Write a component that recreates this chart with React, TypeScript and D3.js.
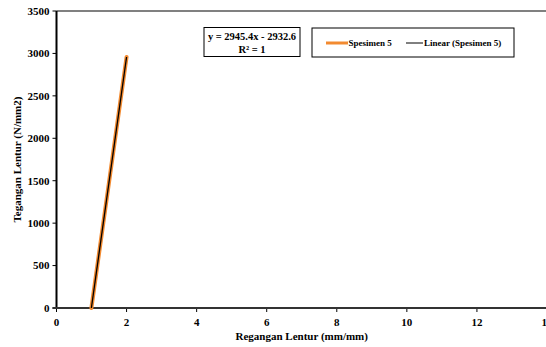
import React from "react";
import * as d3 from "d3";

const strainValues = [0.9957, 2.0];
const stressValues = [0, 2958];
const xTicks = [0, 2, 4, 6, 8, 10, 12, 14];
const yTicks = [0, 500, 1000, 1500, 2000, 2500, 3000, 3500];
const seriesName = "Spesimen 5";
const trendName = "Linear (Spesimen 5)";
const equationText = "y = 2945.4x - 2932.6";
const r2Text = "R² = 1";
const xTitle = "Regangan Lentur (mm/mm)";
const yTitle = "Tegangan Lentur (N/mm2)";

export default function App() {
  const W = 546, H = 347;
  const left = 56.5, right = 547, top = 11, bottom = 308;
  const x = d3.scaleLinear().domain([0, 14]).range([left, right]);
  const y = d3.scaleLinear().domain([0, 3500]).range([bottom, top]);
  const pts = strainValues.map((v, i) => [v, stressValues[i]] as [number, number]);
  const line = d3.line<[number, number]>().x(d => x(d[0])).y(d => y(d[1]));
  const font = "'Liberation Serif', 'Times New Roman', serif";
  return (
    <svg width={W} height={H} style={{ position: "absolute", left: 0, top: 0, background: "#fff" }}
      fontFamily={font} fontWeight="bold">
      <rect x={0} y={0} width={W} height={H} fill="#fff" />
      {/* top border */}
      <line x1={left} x2={right + 2} y1={top} y2={top} stroke="#808080" strokeWidth={2} />
      {/* y ticks */}
      {yTicks.map(t => (
        <g key={"y" + t}>
          <line x1={left - 4} x2={left} y1={y(t)} y2={y(t)} stroke="#000" strokeWidth={1} />
          <text x={left - 7} y={y(t)} dy="0.35em" textAnchor="end" fontSize={11}>{t}</text>
        </g>
      ))}
      {/* x ticks */}
      {xTicks.map(t => (
        <g key={"x" + t}>
          <line x1={x(t)} x2={x(t)} y1={bottom} y2={bottom + 4} stroke="#000" strokeWidth={1} />
          <text x={x(t)} y={bottom + 18} textAnchor="middle" fontSize={11}>{t}</text>
        </g>
      ))}
      <line x1={left} x2={left} y1={top} y2={bottom + 1} stroke="#000" strokeWidth={2} />
      <line x1={left - 4} x2={right + 2} y1={bottom} y2={bottom} stroke="#333" strokeWidth={2} />
      {/* series */}
      <path d={line(pts) || ""} fill="none" stroke="#F28A30" strokeWidth={4} strokeLinecap="round" />
      <path d={line(pts) || ""} fill="none" stroke="#000" strokeWidth={1.3} />
      {/* equation box */}
      <rect x={204} y={27.5} width={96} height={29} fill="#fff" stroke="#000" strokeWidth={1} />
      <text x={252} y={40} textAnchor="middle" fontSize={10.5}>{equationText}</text>
      <text x={252} y={53} textAnchor="middle" fontSize={10.5}>{r2Text}</text>
      {/* legend */}
      <rect x={312} y={28} width={202} height={29} fill="#fff" stroke="#000" strokeWidth={1} />
      <line x1={326} x2={348} y1={43} y2={43} stroke="#F28A30" strokeWidth={3} />
      <text x={348.5} y={46} fontSize={9}>{seriesName}</text>
      <line x1={406} x2={423} y1={43} y2={43} stroke="#000" strokeWidth={1} />
      <text x={424} y={46} fontSize={9}>{trendName}</text>
      {/* titles */}
      <text x={(left + right) / 2} y={340} textAnchor="middle" fontSize={11}>{xTitle}</text>
      <text transform={`translate(21, ${(top + bottom) / 2}) rotate(-90)`} textAnchor="middle" fontSize={11}>{yTitle}</text>
    </svg>
  );
}
